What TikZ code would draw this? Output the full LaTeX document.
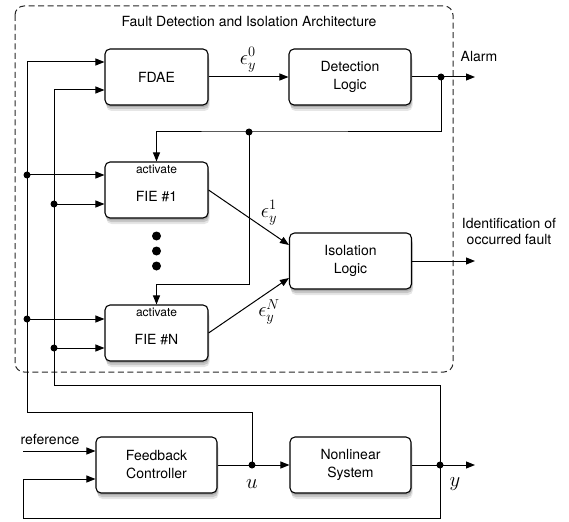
\documentclass[tikz,border=0pt]{standalone}
\usepackage{amssymb,amsmath}
\usepackage[no-math]{fontspec}
\setmainfont{TeX Gyre Heros}
\usetikzlibrary{arrows.meta,shadows,calc}

\tikzset{
  blk/.style={draw,line width=1.1pt,rounded corners=5pt,fill=white,
    minimum width=103pt,minimum height=56pt,align=center,
    drop shadow={shadow xshift=1.5pt,shadow yshift=-6pt,opacity=0.2},
    drop shadow={shadow xshift=1pt,shadow yshift=-4pt,opacity=0.3},
    drop shadow={shadow xshift=0.5pt,shadow yshift=-2pt,opacity=0.4}},
  wblk/.style={blk,minimum width=122pt},
  sig/.style={line width=1pt,-{Triangle[length=9pt,width=7pt]}},
  wire/.style={line width=1pt},
  mlbl/.style={font=\fontsize{21}{24}\selectfont},
  actlbl/.style={font=\fontsize{12}{14}\selectfont,anchor=north,inner sep=3pt}
}

\begin{document}
\begin{tikzpicture}[x=1pt,y=-1pt,font=\fontsize{14}{18}\selectfont]
\useasboundingbox (0,0) rectangle (569,521);

%\draw[help lines,step=10] (0,0) grid (569,521);

\draw[dash pattern=on 6pt off 3.5pt,black!85,line width=1pt,rounded corners=9pt] (15,6) rectangle (453,372);
\node (title) at (249,22) {Fault Detection and Isolation Architecture};

% blocks
\node[blk] (fdae) at (156.5,77) {FDAE};
\node[wblk] (det) at (350,77) {Detection\\Logic};
\node[blk,label={[actlbl]north:activate}] (fie1) at (156.5,190) {};
\node (fie1txt) at ($(fie1)+(0,7)$) {FIE \#1};
\node[blk,label={[actlbl]north:activate}] (fien) at (156.5,333) {};
\node (fientxt) at ($(fien)+(0,7)$) {FIE \#N};
\node[wblk] (iso) at (350.5,261) {Isolation\\Logic};
\node[wblk,minimum width=121pt] (ctrl) at (156.5,465) {Feedback\\Controller};
\node[wblk,minimum width=121pt] (sys) at (350.5,465) {Nonlinear\\System};

% junctions
\coordinate (ja) at (441,77);
\coordinate (alarm) at (475,77);
\coordinate (jc) at (249,132);
\coordinate (la) at (27,175);
\coordinate (lb) at (27,319);
\coordinate (ma) at (54,204);
\coordinate (mb) at (54,348);
\coordinate (uc) at (27,412);
\coordinate (yc) at (54,385);
\coordinate (ju) at (252,465);
\coordinate (jy) at (440,465);
\coordinate (yout) at (475,465);
\coordinate (ref) at (23,451);
\coordinate (fb) at (23,518);

% detection
\draw[sig] (fdae) -- (det);
\node[mlbl] (e0) at (248,60) {$\epsilon_y^0$};
\draw[sig] (det) -- (alarm);
\node (alarmtxt) at (479,57) {Alarm};
\draw[sig] (ja) |- (jc) -| (fie1.north);
\draw[sig] (jc) |- ($(fien.north)+(0,-20)$) -- (fien.north);

% isolation
\draw[sig] (fie1.east) -- ($(iso.west)+(0,-16)$);
\node[mlbl] (e1) at (269,213) {$\epsilon_y^1$};
\draw[sig] (fien.east) -- ($(iso.west)+(0,17)$);
\node[mlbl] (eN) at (269,312) {$\epsilon_y^N$};
\draw[sig] (iso) -- (iso -| alarm);
\node[align=center] (ident) at (509,231) {Identification of\\[-2pt]occurred fault};

% inputs u and y
\draw[sig] (ju) |- (uc) |- ($(fdae.west)+(0,-15)$);
\draw[sig] (jy) |- (yc) |- ($(fdae.west)+(0,13)$);
\draw[sig] (la) -- (la -| fie1.west);
\draw[sig] (ma) -- (ma -| fie1.west);
\draw[sig] (lb) -- (lb -| fien.west);
\draw[sig] (mb) -- (mb -| fien.west);

% plant loop
\draw[sig] (ref) -- (ref -| ctrl.west);
\node (reftxt) at (50,439) {reference};
\draw[wire] (ctrl) -- (ju);
\draw[sig] (ju) -- (sys);
\draw[wire] (sys) -- (jy);
\draw[sig] (jy) -- (yout);
\draw[sig] (jy) |- (fb) |- ($(ctrl.west)+(0,14)$);
\node[mlbl] (utxt) at (252,484) {$u$};
\node[mlbl] (ytxt) at (455,484) {$y$};

\foreach \p in {ja,jc,la,lb,ma,mb,ju,jy}
  \fill (\p) circle[radius=3.5];
\foreach \y in {236,251,266}
  \fill (156.5,\y) circle[radius=4.5];

\end{tikzpicture}
\end{document}
